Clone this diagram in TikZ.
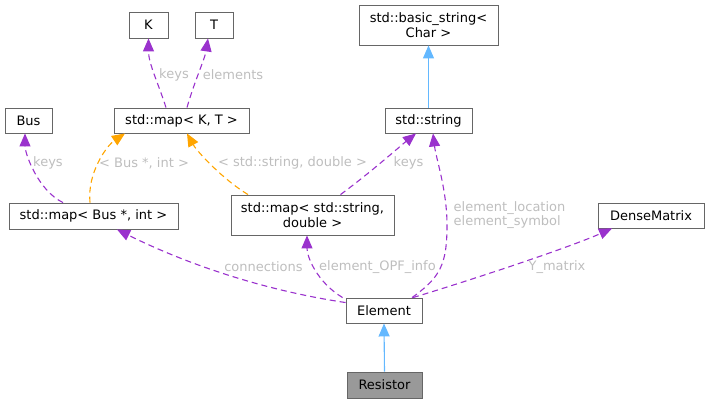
\documentclass[tikz,border=0pt]{standalone}
\usepackage{fontspec}
\setmainfont{DejaVu Sans}
\usetikzlibrary{arrows.meta}
\definecolor{nodeborder}{HTML}{666666}
\definecolor{resfill}{HTML}{999999}
\definecolor{purp}{HTML}{9A32CD}
\definecolor{orng}{HTML}{FFA500}
\definecolor{blu}{HTML}{63B8FF}
\definecolor{lbl}{HTML}{BEBEBE}
\tikzset{
  box/.style={draw=nodeborder, line width=0.9pt, fill=white, inner sep=0pt, align=center,
    font=\fontsize{13}{15}\selectfont, text=black},
  lab/.style={inner sep=0pt, text=lbl, font=\fontsize{13}{14.5}\selectfont},
  tipp/.style={-{Triangle[length=13pt,width=11pt]}},
  memb/.style={tipp, draw=purp, line width=1.1pt, dash pattern=on 6pt off 4pt},
  tmpl/.style={tipp, draw=orng, line width=1.1pt, dash pattern=on 6pt off 4pt},
  inh/.style={tipp, draw=blu, line width=1.1pt},
}
\begin{document}
\begin{tikzpicture}[x=1pt,y=-1pt]
\useasboundingbox (0,0) rectangle (709,404);
% nodes
\node[box, minimum width=39, minimum height=26] (K) at (148.5,25) {K};
\node[box, minimum width=38, minimum height=26] (T) at (214,25) {T};
\node[box, minimum width=139, minimum height=40] (bstr) at (428.5,25) {std::basic\_string\textless\\Char \textgreater};
\node[box, minimum width=47, minimum height=25] (Bus) at (28.5,120.5) {Bus};
\node[box, minimum width=135, minimum height=25] (mapKT) at (181.5,120.5) {std::map\textless{} K, T \textgreater};
\node[box, minimum width=87, minimum height=25] (str) at (428.5,120.5) {std::string};
\node[box, minimum width=169, minimum height=26] (mapBus) at (93.5,216) {std::map\textless{} Bus *, int \textgreater};
\node[box, minimum width=163, minimum height=40] (mapSD) at (312.5,215) {std::map\textless{} std::string,\\double \textgreater};
\node[box, minimum width=106, minimum height=25] (Dense) at (651,215.5) {DenseMatrix};
\node[box, minimum width=76, minimum height=25] (Elem) at (384,310.5) {Element};
\node[box, fill=resfill, minimum width=75, minimum height=26] (Res) at (384.5,385) {Resistor};
% edges
\draw[memb] ([xshift=-15.5pt]mapKT.north) .. controls +(-8,-25) and +(0,25) .. (K.south);
\draw[memb] ([xshift=5.5pt]mapKT.north) .. controls +(7,-25) and +(-3,20) .. ([xshift=-6pt]T.south);
\draw[memb] ([xshift=-30.5pt]mapBus.north) .. controls +(-25,-12) and +(0,20) .. ([xshift=-3.5pt]Bus.south);
\draw[tmpl] ([xshift=-3.5pt]mapBus.north) .. controls +(-3,-30) and +(-18,12) .. ([xshift=-56.5pt]mapKT.south);
\draw[tmpl] ([xshift=-64.5pt]mapSD.north) .. controls +(-25,-15) and +(10,18) .. ([xshift=5.5pt]mapKT.south);
\draw[memb] ([xshift=28pt]mapSD.north) .. controls +(30,-22) and +(-15,12) .. ([xshift=-12.5pt]str.south);
\draw[inh] (str.north) -- (bstr.south);
\draw[memb] ([yshift=-5pt]Elem.north west) .. controls +(-100,-15) and +(50,25) .. ([xshift=23.5pt]mapBus.south);
\draw[memb] ([xshift=-3pt]Elem.north west) .. controls +(-25,-15) and +(0,22) .. ([xshift=-5.5pt]mapSD.south);
\draw[memb] ([xshift=28pt]Elem.north) .. controls +(28,-20) and +(0,40) .. (447,225) .. controls +(0,-35) and +(3,25) .. ([xshift=4.5pt]str.south);
\draw[memb] ([xshift=29pt]Elem.north) .. controls +(50,-15) and +(-45,20) .. ([xshift=-39pt]Dense.south);
\draw[inh] (Res.north) -- (Elem.south);
% labels
\node[lab] (l1) at (174,75) {keys};
\node[lab] (l2) at (233,75) {elements};
\node[lab] (l3) at (48,163) {keys};
\node[lab] (l4) at (144,163) {\textless{} Bus *, int \textgreater};
\node[lab] (l5) at (292.5,163) {\textless{} std::string, double \textgreater};
\node[lab] (l6) at (408.5,163) {keys};
\node[lab] (l7) at (263.5,267) {connections};
\node[lab] (l8) at (377.5,267) {element\_OPF\_info};
\node[lab, anchor=west, align=left] (l9) at (453.5,215) {element\_location\\element\_symbol};
\node[lab] (l10) at (557,267) {Y\_matrix};
\end{tikzpicture}
\end{document}
